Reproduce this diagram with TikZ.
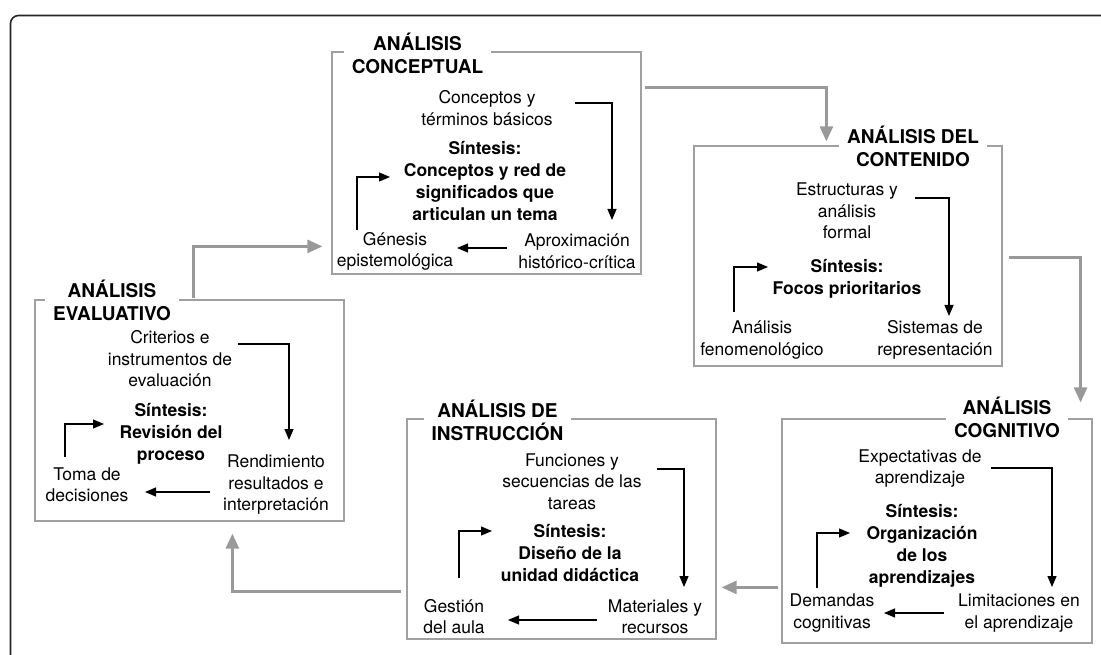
\documentclass[tikz,border=0pt]{standalone}
\usepackage{fontspec}
\setmainfont{TeX Gyre Heros}
\usetikzlibrary{arrows.meta,calc}
\definecolor{boxgray}{HTML}{A0A0A0}
\definecolor{flowgray}{HTML}{999999}
\tikzset{
  panelbox/.style={draw=boxgray, line width=1.2pt, inner sep=0pt},
  paneltitle/.style={fill=white, inner xsep=8pt, inner ysep=0pt, align=center,
    font=\fontsize{19}{23}\selectfont\bfseries},
  itemtext/.style={inner sep=0pt, align=center, font=\fontsize{17.5}{21.5}\selectfont},
  synthtext/.style={inner sep=0pt, align=center, font=\fontsize{17.5}{22}\selectfont\bfseries},
  innerarrow/.style={draw=black, line width=1.2pt, -{Triangle[length=11pt,width=9pt]}},
  flowarrow/.style={draw=flowgray, line width=2.6pt, -{Triangle[length=15pt,width=13pt]}},
  outerframe/.style={draw=black!85, line width=1.6pt, rounded corners=8pt},
}
\begin{document}
\begin{tikzpicture}[x=1pt,y=-1pt]
\useasboundingbox (0,0) rectangle (1101,655);
\clip (0,0) rectangle (1101,655);

% outer frame
\draw[outerframe] (10.5,670) -- (10.5,15.5) -- (1120,15.5);

% panels
\node[panelbox, minimum width=309pt, minimum height=222pt] (B1) at (486.5,163) {};
\node[panelbox, minimum width=308pt, minimum height=220pt] (B2) at (848,256) {};
\node[panelbox, minimum width=310pt, minimum height=224pt] (B3) at (937,531) {};
\node[panelbox, minimum width=309pt, minimum height=220pt] (B4) at (561.5,529) {};
\node[panelbox, minimum width=309pt, minimum height=221pt] (B5) at (189.5,410.5) {};

% panel titles
\node[paneltitle] (T1) at (417.5,53) {ANÁLISIS\\CONCEPTUAL};
\node[paneltitle] (T2) at (913,146) {ANÁLISIS DEL\\CONTENIDO};
\node[paneltitle] (T3) at (1007,417) {ANÁLISIS\\COGNITIVO};
\node[paneltitle] (T4) at (497.5,420) {ANÁLISIS DE\\INSTRUCCIÓN};
\node[paneltitle] (T5) at (112,300) {ANÁLISIS\\EVALUATIVO};

% conceptual analysis
\node[itemtext] (c1top) at (487,108) {Conceptos y\\términos básicos};
\node[synthtext] (c1syn) at (485,180.5) {Síntesis:\\Conceptos y red de\\significados que\\articulan un tema};
\node[itemtext] (c1left) at (395,251.5) {Génesis\\epistemológica};
\node[itemtext] (c1right) at (577,251.5) {Aproximación\\histórico-crítica};
\coordinate (c1a) at (575,103);
\coordinate (c1b) at (612,220);
\coordinate (c1c) at (507,248);
\coordinate (c1d) at (457,248);
\coordinate (c1e) at (357,230);
\coordinate (c1f) at (390,177);
\draw[innerarrow] (c1a) -| (c1b);
\draw[innerarrow] (c1c) -- (c1d);
\draw[innerarrow] (c1e) |- (c1f);

% content analysis
\node[itemtext] (c2top) at (847,211) {Estructuras y\\análisis\\formal};
\node[synthtext] (c2syn) at (847,278.5) {Síntesis:\\Focos prioritarios};
\node[itemtext] (c2left) at (762,340) {Análisis\\fenomenológico};
\node[itemtext] (c2right) at (935,340) {Sistemas de\\representación};
\coordinate (c2a) at (915,198);
\coordinate (c2b) at (949,316);
\coordinate (c2e) at (734,312);
\coordinate (c2f) at (768,267);
\draw[innerarrow] (c2a) -| (c2b);
\draw[innerarrow] (c2e) |- (c2f);

% cognitive analysis
\node[itemtext] (c3top) at (920,468.5) {Expectativas de\\aprendizaje};
\node[synthtext] (c3syn) at (922,546) {Síntesis:\\Organización\\de los\\aprendizajes};
\node[itemtext] (c3left) at (832,613) {Demandas\\cognitivas};
\node[itemtext] (c3right) at (1019,613) {Limitaciones en\\el aprendizaje};
\coordinate (c3a) at (991,468);
\coordinate (c3b) at (1052,587);
\coordinate (c3c) at (944,613);
\coordinate (c3d) at (884,613);
\coordinate (c3e) at (817,588);
\coordinate (c3f) at (850,533);
\draw[innerarrow] (c3a) -| (c3b);
\draw[innerarrow] (c3c) -- (c3d);
\draw[innerarrow] (c3e) |- (c3f);

% instruction analysis
\node[itemtext] (c4top) at (572,481.5) {Funciones y\\secuencias de las\\tareas};
\node[synthtext] (c4syn) at (570,552.5) {Síntesis:\\Diseño de la\\unidad didáctica};
\node[itemtext] (c4left) at (454,616.5) {Gestión\\del aula};
\node[itemtext] (c4right) at (655,616.5) {Materiales y\\recursos};
\coordinate (c4a) at (657,469);
\coordinate (c4b) at (684,587);
\coordinate (c4c) at (597,620);
\coordinate (c4d) at (508,620);
\coordinate (c4e) at (459,578);
\coordinate (c4f) at (492,531);
\draw[innerarrow] (c4a) -| (c4b);
\draw[innerarrow] (c4c) -- (c4d);
\draw[innerarrow] (c4e) |- (c4f);

% evaluative analysis
\node[itemtext] (c5top) at (170,359) {Criterios e\\instrumentos de\\evaluación};
\node[synthtext] (c5syn) at (171,433.5) {Síntesis:\\Revisión del\\proceso};
\node[itemtext] (c5left) at (87,485) {Toma de\\decisiones};
\node[itemtext] (c5right) at (276,485) {Rendimiento\\resultados e\\interpretación};
\coordinate (c5a) at (238,344);
\coordinate (c5b) at (289,440);
\coordinate (c5c) at (210,492);
\coordinate (c5d) at (145,492);
\coordinate (c5e) at (65,457);
\coordinate (c5f) at (104,424);
\draw[innerarrow] (c5a) -| (c5b);
\draw[innerarrow] (c5c) -- (c5d);
\draw[innerarrow] (c5e) |- (c5f);

% cycle between panels
\draw[flowarrow] ($(B1.north east)+(3,36)$) -| ($(B2.north west)+(133,-4)$);
\draw[flowarrow] ($(B2.north east)+(6,112)$) -| ($(B3.north east)+(-12,-16)$);
\coordinate (g3) at ($(B3.north west)+(-3,169)$);
\draw[flowarrow] (g3) -- ([xshift=5pt]g3 -| B4.east);
\draw[flowarrow] ($(B4.north west)+(-5,173)$) -| ($(B5.south west)+(198,12)$);
\draw[flowarrow] ($(B5.north west)+(159,-1)$) |- ($(B1.north west)+(-9,195)$);
\end{tikzpicture}
\end{document}
